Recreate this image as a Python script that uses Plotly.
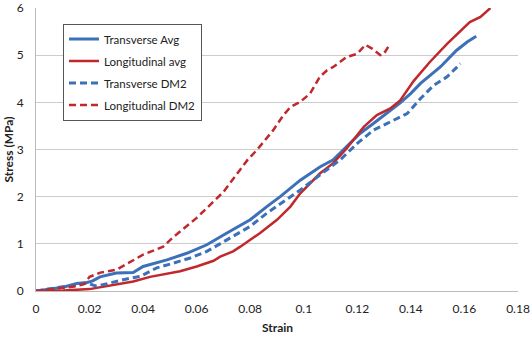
import plotly.graph_objects as go

# Transverse Avg
ta_x = [0, 0.005, 0.0101, 0.0152, 0.019, 0.021, 0.0239, 0.030, 0.0363, 0.040, 0.0489, 0.0563, 0.0638, 0.0713,
        0.080, 0.0862, 0.0912, 0.0987, 0.106, 0.111, 0.116, 0.121, 0.126, 0.131, 0.136, 0.140, 0.1436,
        0.151, 0.157, 0.161, 0.1644]
ta_y = [0, 0.04, 0.08, 0.16, 0.18, 0.21, 0.30, 0.38, 0.39, 0.52, 0.66, 0.80, 0.98, 1.23,
        1.51, 1.79, 2.0, 2.35, 2.63, 2.78, 3.06, 3.34, 3.55, 3.76, 3.99, 4.19, 4.40,
        4.75, 5.10, 5.28, 5.40]

# Longitudinal avg
la_x = [0, 0.01, 0.02, 0.0239, 0.030, 0.0363, 0.0426, 0.0489, 0.0538, 0.060, 0.0663, 0.0688, 0.0736,
        0.0763, 0.080, 0.0837, 0.090, 0.095, 0.0987, 0.106, 0.111, 0.116, 0.1224, 0.1273, 0.1323,
        0.136, 0.141, 0.147, 0.1535, 0.1585, 0.162, 0.166, 0.1697]
la_y = [0, 0.01, 0.04, 0.08, 0.13, 0.20, 0.30, 0.37, 0.42, 0.52, 0.64, 0.73, 0.84,
        0.94, 1.08, 1.23, 1.51, 1.79, 2.07, 2.49, 2.71, 3.02, 3.48, 3.73, 3.87,
        4.04, 4.45, 4.85, 5.24, 5.52, 5.70, 5.81, 6.0]

# Transverse DM2
td_x = [0, 0.005, 0.01, 0.0152, 0.019, 0.0226, 0.0276, 0.0326, 0.0389, 0.0451, 0.0513, 0.0576, 0.0638,
        0.0713, 0.080, 0.0862, 0.0912, 0.0987, 0.106, 0.1136, 0.120, 0.126, 0.131, 0.1336, 0.1386,
        0.1436, 0.1485, 0.1535, 0.1585]
td_y = [0, 0.05, 0.09, 0.12, 0.17, 0.10, 0.17, 0.24, 0.31, 0.49, 0.59, 0.70, 0.84,
        1.08, 1.37, 1.65, 1.85, 2.14, 2.46, 2.78, 3.13, 3.41, 3.55, 3.62, 3.76,
        4.08, 4.36, 4.54, 4.82]

# Longitudinal DM2
ld_x = [0, 0.005, 0.01, 0.015, 0.018, 0.020, 0.024, 0.030, 0.040, 0.0475, 0.051, 0.060, 0.070, 0.079,
        0.0825, 0.0886, 0.0923, 0.095, 0.0987, 0.1024, 0.106, 0.1087, 0.111, 0.116, 0.120, 0.123,
        0.1255, 0.1286, 0.1298, 0.132]
ld_y = [0, 0.03, 0.06, 0.10, 0.15, 0.30, 0.39, 0.45, 0.77, 0.94, 1.13, 1.55, 2.10, 2.78,
        2.99, 3.41, 3.72, 3.90, 4.01, 4.19, 4.54, 4.68, 4.75, 4.96, 5.03, 5.22,
        5.14, 5.00, 5.02, 5.22]

x_ticks = [0, 0.02, 0.04, 0.06, 0.08, 0.1, 0.12, 0.14, 0.16, 0.18]
x_tick_labels = ["0", "0.02", "0.04", "0.06", "0.08", "0.1", "0.12", "0.14", "0.16", "0.18"]
y_ticks = [0, 1, 2, 3, 4, 5, 6]

BLUE = "#3C70B8"
RED = "#C0282C"
DASH = "7px,4px"

fig = go.Figure()
fig.add_trace(go.Scatter(x=ta_x, y=ta_y, mode="lines", name="Transverse Avg", legendgroup="a",
                         line=dict(color=BLUE, width=3)))
fig.add_trace(go.Scatter(x=la_x, y=la_y, mode="lines", name="Longitudinal avg", legendgroup="b",
                         line=dict(color=RED, width=2.5)))
fig.add_trace(go.Scatter(x=td_x, y=td_y, mode="lines", name="Transverse DM2", legendgroup="c",
                         line=dict(color=BLUE, width=3, dash=DASH)))
fig.add_trace(go.Scatter(x=ld_x, y=ld_y, mode="lines", name="Longitudinal DM2", legendgroup="d",
                         line=dict(color=RED, width=2.5, dash=DASH)))

fig.update_layout(
    width=532, height=337,
    margin=dict(l=36, r=14, t=8, b=46),
    paper_bgcolor="white", plot_bgcolor="white",
    font=dict(family="Lato, Open Sans, sans-serif", size=12, color="#222222"),
    legend=dict(x=0.056, y=0.945, xanchor="left", yanchor="top",
                bordercolor="#555555", borderwidth=1, bgcolor="white",
                font=dict(size=11.5), itemwidth=30, tracegroupgap=3),
    xaxis=dict(range=[0, 0.18], tickvals=x_ticks, ticktext=x_tick_labels,
               showgrid=False, showline=True, linecolor="#BBBBBB", linewidth=1,
               zeroline=False, ticks="outside", ticklen=7, tickcolor="rgba(0,0,0,0)", automargin=False),
    yaxis=dict(range=[0, 6], tickvals=y_ticks, showgrid=True, gridcolor="#CCCCCC", gridwidth=1,
               showline=True, linecolor="#BBBBBB", linewidth=1, zeroline=False,
               ticks="outside", ticklen=9, tickcolor="rgba(0,0,0,0)", automargin=False),
    annotations=[
        dict(text="<b>Strain</b>", xref="paper", yref="paper", x=0.5, y=-0.128,
             xanchor="center", yanchor="middle", showarrow=False, font=dict(size=12)),
        dict(text="<b>Stress (MPa)</b>", xref="paper", yref="paper", x=-0.058, y=0.5,
             xanchor="center", yanchor="middle", textangle=-90, showarrow=False, font=dict(size=12)),
    ],
)

fig.write_html("out.html", config={"displayModeBar": False},
               post_script="document.body.style.margin='0';")
